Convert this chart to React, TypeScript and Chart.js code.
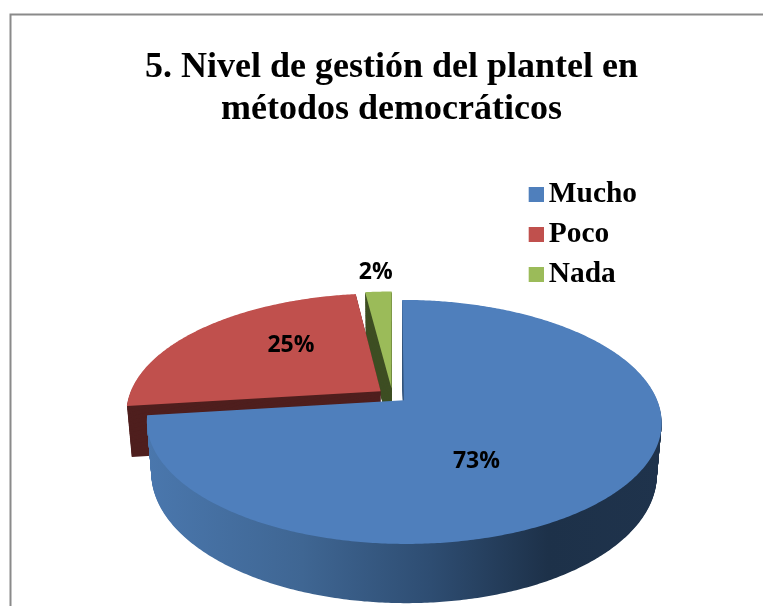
import React, { useEffect, useRef } from "react";
import { Chart, registerables } from "chart.js";

Chart.register(...registerables);

const categories = ["Mucho", "Poco", "Nada"];
const seriesValues = [73, 25, 2];
const percentLabels = ["73%", "25%", "2%"];
const titleLines = ["5. Nivel de gestión del plantel en", "métodos democráticos"];
const topColors = ["#4f7fbc", "#c0504d", "#9bbb59"];
const wallColors = ["gradient", "#4f1f1e", "#3f4f24"];
const gradientStops = [
  [0, "#4a77ad"],
  [0.3, "#3f6693"],
  [0.55, "#2e4d72"],
  [0.78, "#1d3149"],
  [1, "#1f334c"],
];
const drawOrder = [2, 1, 0];
// label anchor per slice: radial fraction of the pie, and turn from mid-angle in degrees
const labelAnchors = [
  { radial: 0.54, turn: 20 },
  { radial: 0.58, turn: 10 },
  { radial: 1.24, turn: 0 },
];

// Oblique view of the pie plane
const view = { cx: 392.5, cy: 395.5, rx: 251.5, ry: 116.5, persp: 0.177, depth: 50.5, shrink: 0.018, explode: 0.06 };

function project(u: number, v: number, t: number) {
  const k = 1 - view.persp * v;
  const s = 1 - view.shrink * t;
  return {
    x: view.cx + (view.rx * u * s) / k,
    y: view.cy + (view.ry * v * s + view.depth * t) / k,
  };
}

function projectedContext(ctx: any, el: any, t: number, fill: any) {
  const { x, y, outerRadius: r, startAngle, endAngle } = el.getProps(["x", "y", "outerRadius", "startAngle", "endAngle"]);
  const mid = (startAngle + endAngle) / 2;
  const ox = Math.cos(mid) * view.explode;
  const oy = Math.sin(mid) * view.explode;
  let tx = 0;
  let ty = 0;
  const stack: number[][] = [];
  const map = (px: number, py: number) => project((px + tx - x) / r + ox, (py + ty - y) / r + oy, t);
  const api: any = {
    save() { stack.push([tx, ty]); ctx.save(); },
    restore() { const s = stack.pop(); if (s) { tx = s[0]; ty = s[1]; } ctx.restore(); },
    translate(a: number, b: number) { tx += a; ty += b; },
    beginPath() { ctx.beginPath(); },
    closePath() { ctx.closePath(); },
    moveTo(a: number, b: number) { const p = map(a, b); ctx.moveTo(p.x, p.y); },
    lineTo(a: number, b: number) { const p = map(a, b); ctx.lineTo(p.x, p.y); },
    arc(a: number, b: number, rad: number, a0: number, a1: number, ccw?: boolean) {
      let span = a1 - a0;
      if (ccw && span > 0) span -= Math.PI * 2;
      if (!ccw && span < 0) span += Math.PI * 2;
      const n = Math.max(2, Math.ceil(Math.abs(span) / 0.01));
      for (let i = 0; i <= n; i++) {
        const an = a0 + (span * i) / n;
        const p = map(a + rad * Math.cos(an), b + rad * Math.sin(an));
        ctx.lineTo(p.x, p.y);
      }
    },
    fill() { ctx.fill(); },
    stroke() {},
    clip() { ctx.clip(); },
  };
  return new Proxy(api, {
    get(target, p) {
      if (p in target) return target[p];
      const val = ctx[p];
      return typeof val === "function" ? val.bind(ctx) : val;
    },
    set(_t, p, val) {
      if (p === "fillStyle") { ctx.fillStyle = fill ?? val; return true; }
      ctx[p] = val;
      return true;
    },
  });
}

const solidPie = {
  id: "solidPie",
  beforeDatasetsDraw(chart: any) {
    const ctx = chart.ctx;
    const meta = chart.getDatasetMeta(0);
    const gradient = ctx.createLinearGradient(148, 0, 661, 0);
    gradientStops.forEach(([o, c]) => gradient.addColorStop(o as number, c as string));
    drawOrder.forEach((i) => {
      const el = meta.data[i];
      const steps = Math.ceil(view.depth * 1.25);
      for (let s = steps; s >= 1; s--) {
        const wall = wallColors[i] === "gradient" ? gradient : wallColors[i];
        el.draw(projectedContext(ctx, el, s / steps, wall));
      }
      el.draw(projectedContext(ctx, el, 0, null));
    });
    ctx.save();
    ctx.fillStyle = "#000";
    ctx.font = 'bold 23px "Open Sans"';
    ctx.textAlign = "center";
    ctx.textBaseline = "middle";
    meta.data.forEach((el: any, i: number) => {
      const { startAngle, endAngle } = el.getProps(["startAngle", "endAngle"]);
      const mid = (startAngle + endAngle) / 2;
      const a = labelAnchors[i];
      const an = mid + (a.turn * Math.PI) / 180;
      const p = project(
        Math.cos(mid) * view.explode + Math.cos(an) * a.radial,
        Math.sin(mid) * view.explode + Math.sin(an) * a.radial,
        0,
      );
      ctx.fillText(percentLabels[i], p.x, p.y);
    });
    ctx.restore();
    return false;
  },
};

const frame = {
  id: "frame",
  beforeDraw(chart: any) {
    const ctx = chart.ctx;
    ctx.save();
    ctx.strokeStyle = "#8a8a8a";
    ctx.lineWidth = 2;
    ctx.strokeRect(10.5, 14.5, 900, 900);
    ctx.restore();
  },
};

// Legend swatch: a square with clear space on its left, so the label sits close to it.
function swatch(color: string) {
  const c = document.createElement("canvas");
  c.width = 20;
  c.height = 15;
  const g = c.getContext("2d") as CanvasRenderingContext2D;
  g.fillStyle = color;
  g.fillRect(5, 0, 15, 15);
  return c;
}

export default function App() {
  const ref = useRef<HTMLCanvasElement>(null);
  useEffect(() => {
    const chart = new Chart(ref.current as HTMLCanvasElement, {
      type: "pie",
      data: {
        labels: categories,
        datasets: [{ data: seriesValues, backgroundColor: topColors, borderWidth: 0 }],
      },
      plugins: [frame, solidPie],
      options: {
        responsive: false,
        animation: false,
        layout: { padding: { left: 136, right: 116, top: 47, bottom: 0 } },
        plugins: {
          tooltip: { enabled: false },
          title: {
            display: true,
            text: titleLines,
            color: "#000",
            font: { family: "Liberation Serif", size: 36, weight: "bold", lineHeight: 1.167 },
            padding: { top: 0, bottom: 38 },
          },
          legend: {
            position: "right",
            align: "start",
            fullSize: false,
            labels: {
              color: "#000",
              boxWidth: 1,
              boxHeight: 15,
              usePointStyle: true,
              pointStyleWidth: 1,
              padding: 10.5,
              font: { family: "Liberation Serif", size: 29.4, weight: "bold" },
              generateLabels: () =>
                categories.map((text, i) => ({
                  text,
                  fillStyle: topColors[i],
                  strokeStyle: topColors[i],
                  lineWidth: 0,
                  fontColor: "#000",
                  hidden: false,
                  index: i,
                  pointStyle: swatch(topColors[i]),
                })),
            },
          },
        },
      },
    } as any);
    return () => chart.destroy();
  }, []);
  return (
    <div style={{ position: "absolute", left: 0, top: 0, width: 763, height: 606, overflow: "hidden" }}>
      <canvas ref={ref} width={763} height={606} style={{ display: "block" }} />
    </div>
  );
}
